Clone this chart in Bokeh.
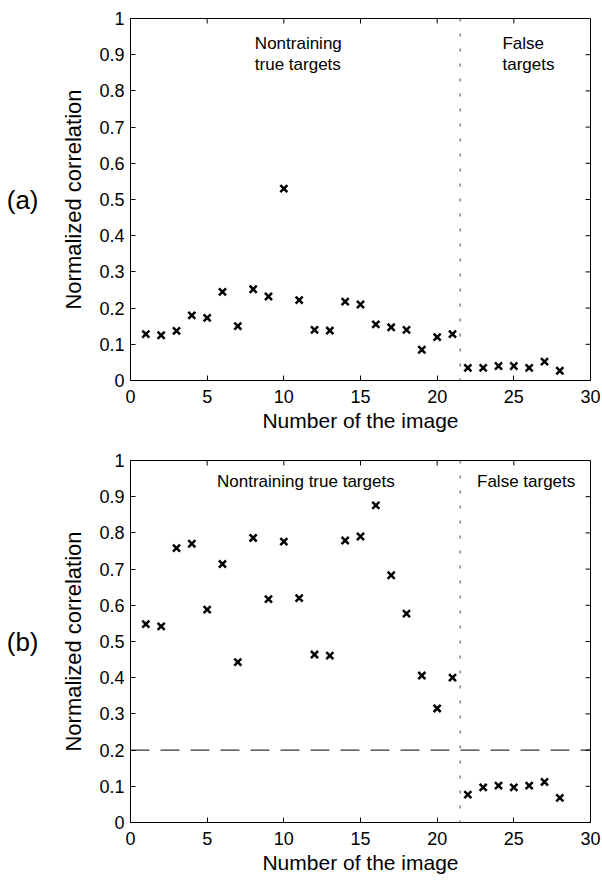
from bokeh.plotting import figure
from bokeh.layouts import column
from bokeh.models import Range1d, FixedTicker, LinearAxis, Span, Label, CustomJSTickFormatter
from bokeh.embed import file_html
from bokeh.resources import INLINE

# ---- data ----
image_no = list(range(1, 29))
corr_a = [0.128, 0.125, 0.137, 0.180, 0.173, 0.245, 0.150, 0.252, 0.232, 0.530,
          0.222, 0.140, 0.138, 0.218, 0.210, 0.155, 0.147, 0.140, 0.085, 0.120,
          0.128, 0.035, 0.035, 0.040, 0.040, 0.035, 0.052, 0.027]
corr_b = [0.548, 0.542, 0.758, 0.770, 0.588, 0.714, 0.443, 0.786, 0.617, 0.776,
          0.620, 0.464, 0.461, 0.779, 0.790, 0.876, 0.683, 0.577, 0.406, 0.315,
          0.400, 0.077, 0.097, 0.102, 0.097, 0.102, 0.112, 0.068]
x_ticks = [0, 5, 10, 15, 20, 25, 30]
y_ticks = [0, 0.1, 0.2, 0.3, 0.4, 0.5, 0.6, 0.7, 0.8, 0.9, 1.0]
separator_x = 21.5
threshold_b = 0.2

FONT = "Liberation Sans"
X0, X1, Y0, Y1 = 0, 30, 0, 1
FRAME_W, FRAME_H = 460, 362
TICK_PX = 5

yfmt = CustomJSTickFormatter(code="var s = tick.toFixed(1); return s.replace(/\\.0$/, '');")


def style_axis(ax):
    ax.major_tick_in = TICK_PX
    ax.major_tick_out = 0
    ax.minor_tick_in = 0
    ax.minor_tick_out = 0
    ax.axis_line_color = "black"
    ax.major_tick_line_color = "black"
    ax.major_label_text_font = FONT
    ax.major_label_text_color = "black"
    ax.axis_label_text_font = FONT
    ax.axis_label_text_font_style = "normal"
    ax.axis_label_text_color = "black"


def make_panel(yvals, height, top, bottom, panel_label, texts, hline=None):
    p = figure(width=602, height=height, output_backend="svg", toolbar_location=None,
               x_range=Range1d(X0, X1), y_range=Range1d(Y0, Y1),
               min_border_left=130, min_border_right=12,
               min_border_top=top, min_border_bottom=bottom)
    p.xgrid.visible = False
    p.ygrid.visible = False
    p.outline_line_color = "black"
    p.background_fill_color = "white"
    p.border_fill_color = "white"

    p.xaxis.ticker = FixedTicker(ticks=x_ticks)
    p.yaxis.ticker = FixedTicker(ticks=y_ticks)
    p.yaxis.formatter = yfmt
    for ax in p.xaxis + p.yaxis:
        style_axis(ax)
    p.xaxis.major_label_text_font_size = "18px"
    p.yaxis.major_label_text_font_size = "18px"
    p.xaxis.major_label_standoff = 9
    p.yaxis.major_label_standoff = 6
    p.xaxis.axis_label = "Number of the image"
    p.xaxis.axis_label_text_font_size = "21px"
    p.xaxis.axis_label_standoff = 3
    p.yaxis.axis_label = "Normalized correlation"
    p.yaxis.axis_label_text_font_size = "22px"
    p.yaxis.axis_label_standoff = 10

    # panel tag "(a)" / "(b)" as the label of an extra, tickless left axis
    tag_ax = LinearAxis(ticker=FixedTicker(ticks=[]), axis_label=panel_label)
    tag_ax.axis_line_color = None
    tag_ax.major_tick_line_color = None
    tag_ax.minor_tick_line_color = None
    tag_ax.axis_label_text_font = FONT
    tag_ax.axis_label_text_font_style = "normal"
    tag_ax.axis_label_text_font_size = "26px"
    tag_ax.axis_label_text_color = "black"
    tag_ax.axis_label_standoff = 20
    if "axis_label_orientation" in tag_ax.properties():
        tag_ax.axis_label_orientation = "horizontal"
    p.add_layout(tag_ax, "left")

    # inward ticks on the top and right edges of the box
    dy = (Y1 - Y0) * TICK_PX / FRAME_H
    dx = (X1 - X0) * TICK_PX / FRAME_W
    p.segment(x0=x_ticks, y0=[Y1] * len(x_ticks), x1=x_ticks, y1=[Y1 - dy] * len(x_ticks),
              line_color="black", line_width=1)
    p.segment(x0=[X1] * len(y_ticks), y0=y_ticks, x1=[X1 - dx] * len(y_ticks), y1=y_ticks,
              line_color="black", line_width=1)

    p.add_layout(Span(location=separator_x, dimension="height", line_color="#444444",
                      line_width=1, line_dash="3 12"))
    if hline is not None:
        p.add_layout(Span(location=hline, dimension="width", line_color="black",
                          line_width=1, line_dash="19 11"))

    p.scatter(image_no, yvals, marker="x", size=10, line_width=2.5, line_color="black")

    for (tx, ty, txt) in texts:
        p.add_layout(Label(x=tx, y=ty, text=txt, text_font=FONT, text_font_size="17px",
                           text_align="left", text_baseline="top", text_line_height=1.1,
                           text_color="black"))
    return p


pa = make_panel(corr_a, 440, 18, 60, "(a)",
                [(8.11, 0.956, "Nontraining\ntrue targets"), (24.26, 0.956, "False\ntargets")])
pb = make_panel(corr_b, 440, 20, 58, "(b)",
                [(5.64, 0.967, "Nontraining true targets"), (22.6, 0.967, "False targets")],
                hline=threshold_b)

layout = column(pa, pb)
open("out.html", "w").write(file_html(layout, INLINE))
